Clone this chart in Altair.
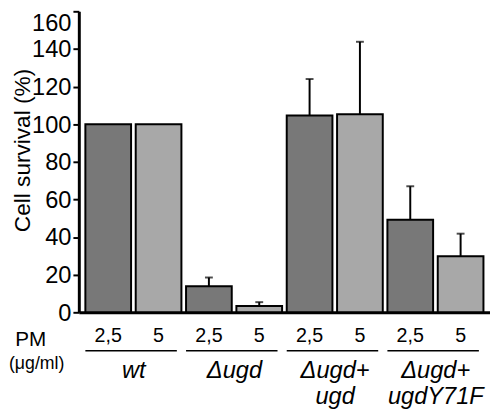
import altair as alt
import pandas as pd

groups = ["wt", "Δugd", "Δugd+\nugd", "Δugd+\nugdY71F"]
doses = ["2,5", "5"]
survival = [100, 100, 13.8, 3.3, 104.6, 105.3, 49.2, 29.8]
errors = [0, 0, 4.7, 2.1, 19.4, 38.5, 17.8, 12.0]
yticks = [0, 20, 40, 60, 80, 100, 120, 140, 160]

rows = []
for gi, g in enumerate(groups):
    for di, d in enumerate(doses):
        i = gi * 2 + di
        rows.append({"key": f"{gi}_{d}", "group": g, "dose": d,
                     "value": survival[i], "upper": survival[i] + errors[i],
                     "err": errors[i], "shade": d})
df = pd.DataFrame(rows)
keys = list(df["key"])
gdf = pd.DataFrame({"k1": keys[0::2], "k2": keys[1::2], "label": groups})
ann = pd.DataFrame({"t": ["PM", "(μg/ml)"]})

FONT = "Liberation Sans"

xscale = alt.Scale(domain=keys, paddingInner=0.092, paddingOuter=0.13)
yscale = alt.Scale(domain=[0, 160], nice=False)

xaxis = alt.Axis(labelExpr="split(datum.value, '_')[1]", labelAngle=0,
                 ticks=False, tickSize=0, labelPadding=30,
                 labelBaseline="alphabetic", labelFontSize=20,
                 labelFont=FONT, labelColor="black", labelOverlap=False,
                 domainColor="black", domainWidth=3)
yaxis = alt.Axis(values=yticks, grid=False, tickSize=6, tickWidth=2,
                 tickColor="black", labelPadding=2, labelFontSize=24,
                 labelFont=FONT, labelColor="black", labelOffset=1,
                 labelOverlap=False, labelFlush=False,
                 labelBaseline={"condition": {"test": "datum.value == 160", "value": "top"}, "value": "middle"},
                 domainColor="black", domainWidth=3,
                 titleFont=FONT, titleFontSize=23, titleFontWeight="normal",
                 titleColor="black", titleX=-57, titleY=141,
                 titleBaseline="middle", titleAngle=-90)
YT = "Cell survival (%)"

def X(field, **kw):
    return alt.X(field, scale=xscale, sort=keys, title=None, axis=xaxis, **kw)

bars = alt.Chart(df).mark_bar(stroke="black", strokeWidth=2).encode(
    x=X("key:N"),
    y=alt.Y("value:Q", scale=yscale, title=YT, axis=yaxis),
    color=alt.Color("shade:N", scale=alt.Scale(domain=doses, range=["#787878", "#a8a8a8"]), legend=None),
)

ebase = alt.Chart(df).transform_filter("datum.err > 0")
erule = ebase.mark_rule(color="black", strokeWidth=2).encode(
    x=X("key:N"),
    y=alt.Y("value:Q", scale=yscale, title=YT, axis=yaxis), y2="upper:Q")
ecap = ebase.mark_tick(color="black", thickness=2, size=8).encode(
    x=X("key:N"),
    y=alt.Y("upper:Q", scale=yscale, title=YT, axis=yaxis))

glines = alt.Chart(gdf).mark_rule(color="black", strokeWidth=1.6).encode(
    x=X("k1:N", bandPosition=0),
    x2=alt.X2("k2:N", bandPosition=0.9),
    y=alt.value(345))
glabels = alt.Chart(gdf).mark_text(font=FONT, fontSize=24, fontStyle="italic",
                                   lineBreak="\n", lineHeight=26, dx=-2,
                                   baseline="alphabetic", align="center").encode(
    x=X("k2:N", bandPosition=0),
    y=alt.value(373), text="label:N")

pm = alt.Chart(ann).transform_filter("datum.t == 'PM'").mark_text(
    font=FONT, fontSize=21, baseline="alphabetic", align="center").encode(
    x=alt.value(-49), y=alt.value(340), text="t:N")
unit = alt.Chart(ann).transform_filter("datum.t != 'PM'").mark_text(
    font=FONT, fontSize=18, baseline="alphabetic", align="left").encode(
    x=alt.value(-71), y=alt.value(364), text="t:N")

chart = alt.layer(bars, erule, ecap, glines, glabels, pm, unit).properties(
    width=418, height=306,
    autosize=alt.AutoSizeParams(type="none"),
    padding={"left": 72, "top": 0, "right": 0, "bottom": 99},
).configure_view(stroke=None)

chart.save("out.html", embed_options={"renderer": "svg", "actions": False})
